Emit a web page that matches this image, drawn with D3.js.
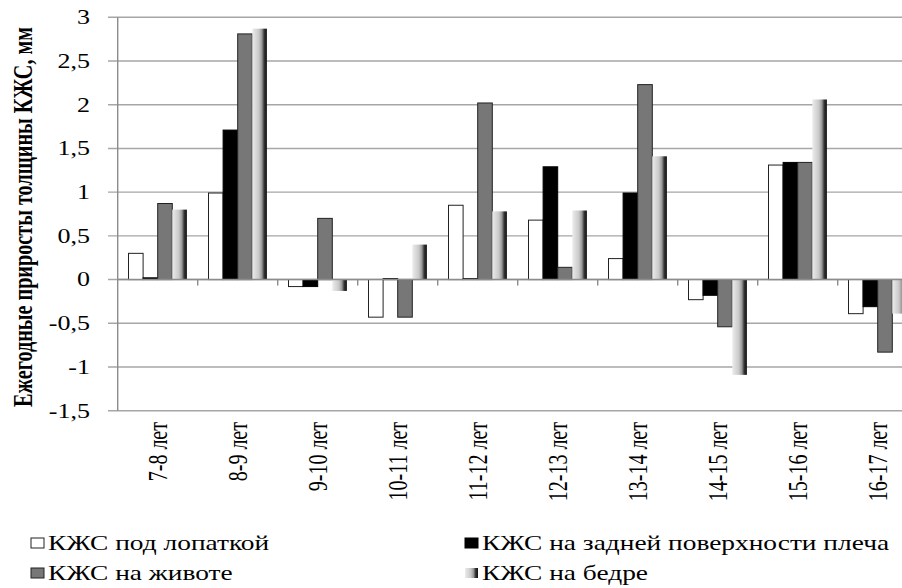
<!DOCTYPE html>
<html>
<head>
<meta charset="utf-8">
<script src="https://cdn.jsdelivr.net/npm/d3@7"></script>
<style>
    body { margin: 0; background: #fff; }
</style>
</head>
<body>
<div id="chart"></div>
<script>

// age intervals
var categories = ["7-8 лет", "8-9 лет", "9-10 лет", "10-11 лет", "11-12 лет",
    "12-13 лет", "13-14 лет", "14-15 лет", "15-16 лет", "16-17 лет"];

var seriesNames = ["КЖС под лопаткой", "КЖС на задней поверхности плеча",
    "КЖС на животе", "КЖС на бедре"];

// yearly increments, mm
var podLopatkoy = [0.30, 0.99, -0.08, -0.43, 0.85, 0.68, 0.24, -0.23, 1.31, -0.39];
var naPleche    = [0.02, 1.71, -0.08, 0.01, 0.01, 1.29, 0.99, -0.18, 1.34, -0.31];
var naZhivote   = [0.87, 2.81, 0.70, -0.43, 2.02, 0.14, 2.23, -0.54, 1.34, -0.83];
var naBedre     = [0.80, 2.87, -0.13, 0.40, 0.78, 0.79, 1.41, -1.09, 2.06, -0.39];

var yTicks = [-1.5, -1, -0.5, 0, 0.5, 1, 1.5, 2, 2.5, 3];

var seriesValues = [podLopatkoy, naPleche, naZhivote, naBedre];

var vis = {};
vis.width = 902;
vis.height = 588;
vis.stretch = 1.4;     // picture is stretched sideways
vis.tickStretch = 1.3;
vis.font = "'Liberation Serif'";

vis.svg = d3.select("#chart").append("svg")
    .attr("width", vis.width)
    .attr("height", vis.height)
    .style("font-family", vis.font);

var defs = vis.svg.append("defs");
var grad = defs.append("linearGradient")
    .attr("id", "bedroGrad")
    .attr("x1", 0).attr("x2", 1).attr("y1", 0).attr("y2", 0);
grad.append("stop").attr("offset", "0%").attr("stop-color", "#ececec");
grad.append("stop").attr("offset", "45%").attr("stop-color", "#c9c9c9");
grad.append("stop").attr("offset", "65%").attr("stop-color", "#9a9a9a");
grad.append("stop").attr("offset", "82%").attr("stop-color", "#333");
grad.append("stop").attr("offset", "100%").attr("stop-color", "#111");

var fills = ["#ffffff", "#000000", "#777777", "url(#bedroGrad)"];
var strokes = ["#222", "#000", "#222", "none"];

var plotLeft = 117.7;
var x0 = d3.scaleBand()
    .domain(categories)
    .range([plotLeft, plotLeft + 800])
    .padding(0);

var x1 = d3.scaleBand()
    .domain(d3.range(seriesNames.length))
    .range([0, x0.bandwidth()])
    .paddingInner(0)
    .paddingOuter(0.74);

var y = d3.scaleLinear()
    .domain([-1.5, 3])
    .range([410.7, 17.3]);

var fmt = function(d) { return String(d).replace(".", ","); };

// gridlines
vis.svg.append("g").selectAll("line")
    .data(yTicks)
    .enter().append("line")
    .attr("x1", 108)
    .attr("x2", vis.width)
    .attr("y1", function(d) { return y(d); })
    .attr("y2", function(d) { return y(d); })
    .attr("stroke", "#a6a6a6")
    .attr("stroke-width", 1.4);

// y axis line
vis.svg.append("line")
    .attr("x1", plotLeft).attr("x2", plotLeft)
    .attr("y1", y(3)).attr("y2", y(-1.5))
    .attr("stroke", "#8c8c8c")
    .attr("stroke-width", 1.4);

// y tick labels
vis.svg.append("g").selectAll("text")
    .data(yTicks)
    .enter().append("text")
    .attr("transform", function(d) {
        return "translate(90," + y(d) + ") scale(" + vis.tickStretch + ",1)";
    })
    .attr("text-anchor", "end")
    .attr("dominant-baseline", "central")
    .style("font-family", vis.font)
    .style("font-size", "20px")
    .text(fmt);

// bars
var groups = vis.svg.append("g").selectAll("g")
    .data(categories)
    .enter().append("g")
    .attr("transform", function(d) { return "translate(" + x0(d) + ",0)"; });

groups.selectAll("rect")
    .data(function(d, i) {
        return seriesValues.map(function(s, k) { return {k: k, v: s[i]}; });
    })
    .enter().append("rect")
    .attr("x", function(d) { return x1(d.k); })
    .attr("width", x1.bandwidth())
    .attr("y", function(d) { return y(Math.max(0, d.v)); })
    .attr("height", function(d) { return Math.abs(y(d.v) - y(0)); })
    .attr("fill", function(d) { return fills[d.k]; })
    .attr("stroke", function(d) { return strokes[d.k]; })
    .attr("stroke-width", 1);

// zero axis with ticks at category boundaries
vis.svg.append("line")
    .attr("x1", plotLeft).attr("x2", vis.width)
    .attr("y1", y(0)).attr("y2", y(0))
    .attr("stroke", "#8c8c8c")
    .attr("stroke-width", 1.4);

vis.svg.append("g").selectAll("line")
    .data(categories)
    .enter().append("line")
    .attr("x1", function(d) { return x0(d) + x0.bandwidth(); })
    .attr("x2", function(d) { return x0(d) + x0.bandwidth(); })
    .attr("y1", y(0))
    .attr("y2", y(0) + 6)
    .attr("stroke", "#8c8c8c")
    .attr("stroke-width", 1.4);

// category labels
vis.svg.append("g").selectAll("text")
    .data(categories)
    .enter().append("text")
    .attr("transform", function(d) {
        return "translate(" + (x0(d) + x0.bandwidth() / 2) + ",422) scale(" + vis.stretch + ",1) rotate(-90)";
    })
    .attr("text-anchor", "end")
    .attr("dominant-baseline", "central")
    .style("font-family", vis.font)
    .style("font-size", "20px")
    .text(function(d) { return d; });

// y title
vis.svg.append("text")
    .attr("transform", "translate(23,217) scale(" + vis.stretch + ",1) rotate(-90)")
    .attr("text-anchor", "middle")
    .attr("dominant-baseline", "central")
    .attr("textLength", 380)
    .attr("lengthAdjust", "spacingAndGlyphs")
    .style("font-family", vis.font)
    .style("font-size", "19px")
    .style("font-weight", "bold")
    .text("Ежегодные приросты толщины КЖС, мм");

// legend
var legendPos = [[31, 543], [465, 543], [31, 573], [465, 573]];

var legend = vis.svg.append("g").selectAll("g")
    .data(seriesNames)
    .enter().append("g")
    .attr("transform", function(d, i) {
        return "translate(" + legendPos[i][0] + "," + legendPos[i][1] + ")";
    });

legend.append("rect")
    .attr("x", 0)
    .attr("y", -5)
    .attr("width", 13)
    .attr("height", 10)
    .attr("fill", function(d, i) { return fills[i]; })
    .attr("stroke", function(d, i) { return strokes[i]; })
    .attr("stroke-width", 1);

legend.append("text")
    .attr("transform", "translate(17,0) scale(1.37,1)")
    .attr("dominant-baseline", "central")
    .style("font-family", vis.font)
    .style("font-size", "20px")
    .text(function(d) { return d; });

</script>
</body>
</html>
